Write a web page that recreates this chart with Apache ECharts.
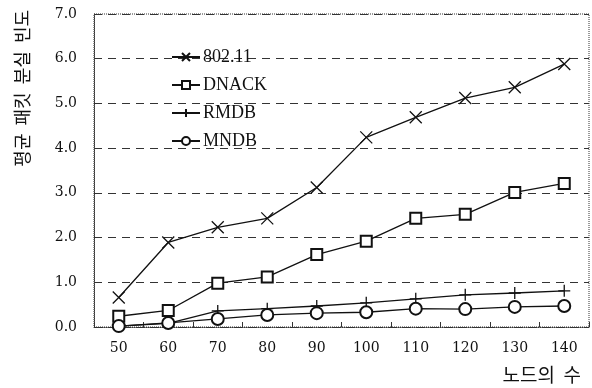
<!DOCTYPE html>
<html>
<head>
<meta charset="utf-8">
<script src="https://cdn.jsdelivr.net/npm/echarts@6/dist/echarts.min.js"></script>
<style>
  html, body { margin: 0; padding: 0; background: #fff; }
  #chart { width: 592px; height: 388px; }
</style>
</head>
<body>
<div id="chart"></div>
<script>
// 노드 수 (x축)
var nodes = ['50', '60', '70', '80', '90', '100', '110', '120', '130', '140'];
// 평균 패킷 분실 빈도
var s80211 = [0.66, 1.89, 2.23, 2.43, 3.12, 4.24, 4.69, 5.12, 5.36, 5.88];
var dnack  = [0.24, 0.37, 0.98, 1.12, 1.62, 1.92, 2.43, 2.52, 3.01, 3.21];
var rmdb   = [0.02, 0.08, 0.36, 0.41, 0.47, 0.54, 0.63, 0.72, 0.76, 0.81];
var mndb   = [0.02, 0.09, 0.18, 0.27, 0.31, 0.33, 0.41, 0.40, 0.45, 0.47];
var yTicks = [0, 1, 2, 3, 4, 5, 6, 7];

var ink = '#111';
var serif = 'DejaVu Serif';
var crossX = 'path://M0,0L10,10M10,0L0,10';
var plus = 'path://M5,0L5,10M0,5L10,5';

var chart = echarts.init(document.getElementById('chart'));

function mkSeries(name, data, symbol, size) {
  return {
    name: name,
    type: 'line',
    data: data,
    symbol: symbol,
    symbolSize: size,
    showAllSymbol: true,
    lineStyle: { color: ink, width: 1.3 },
    itemStyle: { color: ink, borderColor: ink, borderWidth: 1.3 },
    emphasis: { disabled: true },
    z: 3
  };
}

chart.setOption({
  animation: false,
  backgroundColor: '#fff',
  grid: {
    left: 94, right: 3, top: 14, bottom: 61,
    show: true,
    borderColor: '#333',
    borderWidth: 1,
    borderType: 'dotted'
  },
  legend: {
    orient: 'vertical',
    left: 166, top: 43,
    itemWidth: 28, itemHeight: 10,
    itemGap: 10,
    selectedMode: false,
    textStyle: { fontFamily: 'Liberation Serif', fontSize: 18, color: ink, padding: [0, 0, 0, -2] },
    data: ['802.11', 'DNACK', 'RMDB', 'MNDB']
  },
  xAxis: {
    type: 'category',
    data: nodes,
    boundaryGap: true,
    axisLine: { lineStyle: { color: '#333', type: 'dotted', width: 1 } },
    axisTick: { show: true, inside: true, length: 5, lineStyle: { color: '#333' } },
    axisLabel: { fontFamily: serif, fontSize: 14, color: ink, margin: 14 },
    splitLine: { show: false }
  },
  yAxis: {
    type: 'value',
    min: yTicks[0],
    max: yTicks[yTicks.length - 1],
    interval: 1,
    axisLine: { show: true, lineStyle: { color: '#333', type: 'dotted', width: 1 } },
    axisTick: { show: false },
    axisLabel: {
      fontFamily: serif, fontSize: 14, color: ink, margin: 17,
      formatter: function (v) { return v.toFixed(1); }
    },
    splitLine: { show: true, lineStyle: { color: '#333', type: [8, 6], width: 1 } }
  },
  graphic: [
    {
      type: 'text',
      left: 13, top: 10,
      rotation: Math.PI / 2,
      style: {
        text: '평균  패킷  분실  빈도',
        font: '18px "Noto Sans CJK KR"',
        fill: ink
      }
    },
    {
      type: 'text',
      right: 11, top: 365,
      style: {
        text: '노드의  수',
        font: '19px "Noto Sans CJK KR"',
        fill: ink
      }
    }
  ],
  series: [
    mkSeries('802.11', s80211, crossX, 12),
    mkSeries('DNACK', dnack, 'emptyRect', 11),
    mkSeries('RMDB', rmdb, plus, 12),
    mkSeries('MNDB', mndb, 'emptyCircle', 12)
  ]
});
</script>
</body>
</html>
